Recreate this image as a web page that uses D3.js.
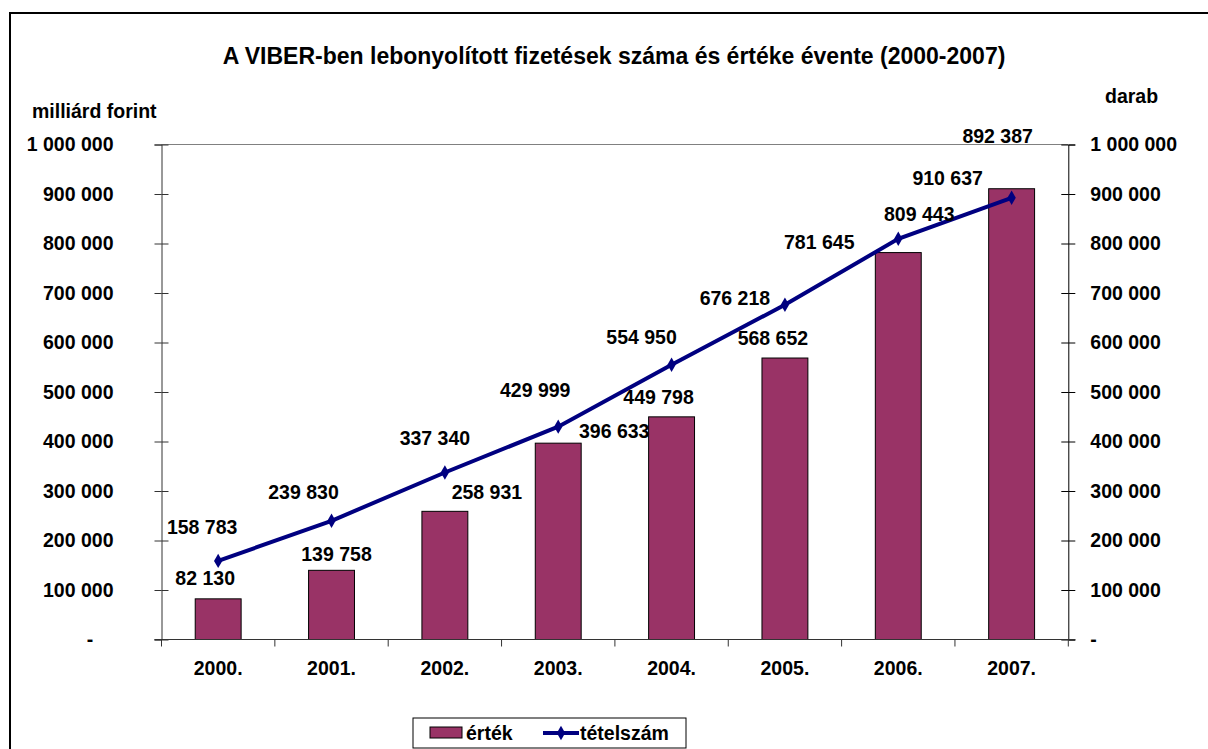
<!DOCTYPE html>
<html>
<head>
<meta charset="utf-8">
<script src="https://cdn.jsdelivr.net/npm/d3@7"></script>
<style>
  body { margin: 0; background: #fff; }
  svg text { font-family: "Liberation Sans", Arial, sans-serif; font-weight: bold; fill: #000; }
</style>
</head>
<body>
<div id="chart"></div>
<script>
// data
var years = ['2000.', '2001.', '2002.', '2003.', '2004.', '2005.', '2006.', '2007.'];
var ertek = [82130, 139758, 258931, 396633, 449798, 568652, 781645, 910637];      // bars, milliard forint
var tetelszam = [158783, 239830, 337340, 429999, 554950, 676218, 809443, 892387]; // line, darab
var yTicks = [0, 100000, 200000, 300000, 400000, 500000, 600000, 700000, 800000, 900000, 1000000];

// label nudges (px) so labels sit where they are in the original
var barLabelNudge = [[-13,-21],[5,-16],[42,-19],[56,-12],[-13,-20],[-12,-20],[-79,-10],[-64,-11]];
var lineLabelNudge = [[-16,-34],[-28,-29],[-10,-34],[-23,-36],[-30,-28],[-50,-7],[21,-25],[-14,-62]];

(function() {

var W = 1208, H = 749;
var pLeft = 161.5, pRight = 1068.3, pTop = 144.5, pBottom = 639.5;
var fs = '19.5px';

var svg = d3.select('#chart').append('svg')
    .attr('width', W)
    .attr('height', H);

// outer chart border (runs off the picture right and bottom)
svg.append('rect')
    .attr('x', 10).attr('y', 13)
    .attr('width', 1400).attr('height', 1000)
    .attr('fill', 'none')
    .attr('stroke', '#000')
    .attr('stroke-width', 2);

var loc = d3.formatLocale({decimal: ',', thousands: ' ', grouping: [3], currency: ['', '']});
var fmt = loc.format(',d');
function tickFmt(d) { return d === 0 ? '-' : fmt(d); }

var x = d3.scaleBand().domain(years).range([pLeft, pRight]);
var y = d3.scaleLinear().domain([0, 1000000]).range([pBottom, pTop]);
var barW = x.bandwidth() * 0.405;

// title
svg.append('text')
    .attr('x', 614).attr('y', 64)
    .attr('text-anchor', 'middle')
    .style('font-size', '23px')
    .text('A VIBER-ben lebonyolított fizetések száma és értéke évente (2000-2007)');

// axis titles
svg.append('text').attr('x', 32).attr('y', 118).style('font-size', fs).text('milliárd forint');
svg.append('text').attr('x', 1105).attr('y', 103).style('font-size', fs).text('darab');

// plot area top line
svg.append('line')
    .attr('x1', pLeft).attr('x2', pRight)
    .attr('y1', pTop).attr('y2', pTop)
    .attr('stroke', '#808080');

// bars
svg.selectAll('.bar')
    .data(ertek)
    .enter().append('rect')
    .attr('class', 'bar')
    .attr('x', function(d, i) { return x(years[i]) + x.bandwidth() / 2 - barW / 2; })
    .attr('y', function(d) { return y(d); })
    .attr('width', barW)
    .attr('height', function(d) { return pBottom - y(d); })
    .attr('fill', '#993366')
    .attr('stroke', '#000')
    .attr('stroke-width', 1);

// left axis
var yAxisL = svg.append('g')
    .attr('transform', 'translate(' + pLeft + ',0)')
    .call(d3.axisLeft(y).tickValues(yTicks).tickFormat(tickFmt).tickSize(7).tickPadding(41));
yAxisL.select('.domain').attr('stroke', '#333');
yAxisL.selectAll('.tick line').attr('stroke', '#333');
yAxisL.selectAll('.tick').append('line').attr('x1', 0).attr('x2', 7).attr('stroke', '#333');
yAxisL.selectAll('.tick text').style('font-size', fs).attr('fill', '#000');
yAxisL.selectAll('.tick text').filter(function(d) { return d === 0; })
    .attr('text-anchor', 'middle').attr('x', 90 - pLeft);

// right axis
var yAxisR = svg.append('g')
    .attr('transform', 'translate(' + pRight + ',0)')
    .call(d3.axisRight(y).tickValues(yTicks).tickFormat(tickFmt).tickSize(7).tickPadding(15));
yAxisR.select('.domain').attr('stroke', '#000');
yAxisR.selectAll('.tick line').attr('stroke', '#000');
yAxisR.selectAll('.tick').append('line').attr('x1', 0).attr('x2', -7).attr('stroke', '#000');
yAxisR.selectAll('.tick text').style('font-size', fs).attr('fill', '#000');

// x axis: baseline, ticks between categories
var xAxis = svg.append('g')
    .attr('transform', 'translate(0,' + pBottom + ')')
    .call(d3.axisBottom(x).tickSize(0).tickPadding(22));
xAxis.select('.domain').remove();
xAxis.selectAll('.tick text').style('font-size', fs);
svg.append('line')
    .attr('x1', pLeft - 7).attr('x2', pRight + 7)
    .attr('y1', pBottom).attr('y2', pBottom)
    .attr('stroke', '#333');
svg.selectAll('.xtick')
    .data(d3.range(years.length + 1))
    .enter().append('line')
    .attr('class', 'xtick')
    .attr('x1', function(i) { return pLeft + i * x.bandwidth(); })
    .attr('x2', function(i) { return pLeft + i * x.bandwidth(); })
    .attr('y1', pBottom).attr('y2', pBottom + 7)
    .attr('stroke', '#333');

// line series
var line = d3.line()
    .x(function(d, i) { return x(years[i]) + x.bandwidth() / 2; })
    .y(function(d) { return y(d); });

svg.append('path')
    .datum(tetelszam)
    .attr('d', line)
    .attr('fill', 'none')
    .attr('stroke', '#000080')
    .attr('stroke-width', 4);

var diamond = d3.symbol().type(d3.symbolDiamond).size(60);
svg.selectAll('.marker')
    .data(tetelszam)
    .enter().append('path')
    .attr('class', 'marker')
    .attr('d', diamond)
    .attr('transform', function(d, i) {
      return 'translate(' + (x(years[i]) + x.bandwidth() / 2) + ',' + y(d) + ')';
    })
    .attr('fill', '#000080');

// data labels
svg.selectAll('.barlabel')
    .data(ertek)
    .enter().append('text')
    .attr('class', 'barlabel')
    .attr('x', function(d, i) { return x(years[i]) + x.bandwidth() / 2 + barLabelNudge[i][0]; })
    .attr('y', function(d, i) { return y(d) + barLabelNudge[i][1]; })
    .attr('dy', '0.35em')
    .attr('text-anchor', 'middle')
    .style('font-size', fs)
    .text(function(d) { return fmt(d); });

svg.selectAll('.linelabel')
    .data(tetelszam)
    .enter().append('text')
    .attr('class', 'linelabel')
    .attr('x', function(d, i) { return x(years[i]) + x.bandwidth() / 2 + lineLabelNudge[i][0]; })
    .attr('y', function(d, i) { return y(d) + lineLabelNudge[i][1]; })
    .attr('dy', '0.35em')
    .attr('text-anchor', 'middle')
    .style('font-size', fs)
    .text(function(d) { return fmt(d); });

// legend
var lg = svg.append('g');
lg.append('rect')
    .attr('x', 413).attr('y', 718).attr('width', 273).attr('height', 30)
    .attr('fill', '#fff').attr('stroke', '#000');
lg.append('rect')
    .attr('x', 430).attr('y', 727).attr('width', 32).attr('height', 11)
    .attr('fill', '#993366').attr('stroke', '#000');
lg.append('text').attr('x', 466).attr('y', 740).style('font-size', fs).text('érték');
lg.append('line')
    .attr('x1', 543).attr('x2', 579).attr('y1', 733).attr('y2', 733)
    .attr('stroke', '#000080').attr('stroke-width', 4);
lg.append('path').attr('d', diamond).attr('transform', 'translate(561,733)').attr('fill', '#000080');
lg.append('text').attr('x', 580).attr('y', 740).style('font-size', fs).text('tételszám');

})();
</script>
</body>
</html>
